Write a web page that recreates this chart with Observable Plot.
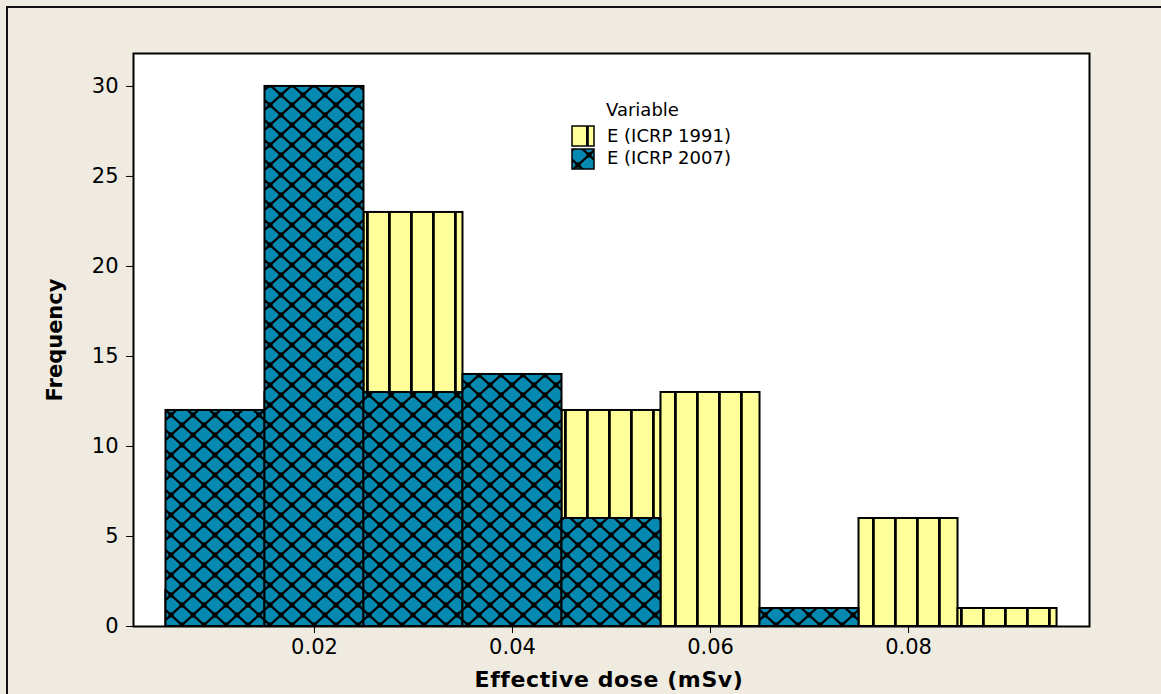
<!DOCTYPE html>
<html>
<head>
<meta charset="utf-8">
<script src="https://cdn.jsdelivr.net/npm/d3@7"></script>
<script src="https://cdn.jsdelivr.net/npm/@observablehq/plot@0.6"></script>
<style>
  html, body { margin: 0; padding: 0; background: #EFEBE1; }
  #chart { position: absolute; left: 0; top: 0; width: 1161px; height: 694px; }
</style>
</head>
<body>
<div id="chart"></div>
<script>
// ---- Data ----
const binCenters = [0.01, 0.02, 0.03, 0.04, 0.05, 0.06, 0.07, 0.08, 0.09];
const binWidth = 0.01;
// E (ICRP 1991): bins at 0.01, 0.02, 0.04 are hidden behind the 2007 bars (estimated)
const e1991 = [2, 13, 23, 6, 12, 13, 0, 6, 1];
const e2007 = [12, 30, 13, 14, 6, 0, 1, 0, 0];
const seriesNames = ["E (ICRP 1991)", "E (ICRP 2007)"];
const xTicks = [0.02, 0.04, 0.06, 0.08];
const yTicks = [0, 5, 10, 15, 20, 25, 30];
const xTitle = "Effective dose (mSv)";
const yTitle = "Frequency";
const legendTitle = "Variable";

const rows = (vals, name) => binCenters.map((c, i) => ({
  x1: c - binWidth / 2, x2: c + binWidth / 2, count: vals[i], series: name
}));
const d1991 = rows(e1991, seriesNames[0]);
const d2007 = rows(e2007, seriesNames[1]);

const FONT = "DejaVu Sans, Verdana, sans-serif";

const chart = Plot.plot({
  width: 1161,
  height: 694,
  marginLeft: 133,
  marginRight: 72,
  marginTop: 53,
  marginBottom: 68,
  style: { fontFamily: FONT, fontSize: "21px", color: "black", background: "transparent", overflow: "visible" },
  x: { domain: [0.00172, 0.09828], ticks: xTicks, tickFormat: d3.format(".2f"), tickSize: 7, tickPadding: 6, label: null },
  y: { domain: [0, 31.83], ticks: yTicks, tickSize: 7, tickPadding: 8, label: null },
  marks: [
    Plot.frame({ fill: "white" }),
    Plot.rectY(d1991, { filter: d => d.count > 0, x1: "x1", x2: "x2", y: "count", fill: "url(#patYellow)", stroke: "black", strokeWidth: 2 }),
    Plot.rectY(d2007, { filter: d => d.count > 0, x1: "x1", x2: "x2", y: "count", fill: "url(#patBlue)", stroke: "black", strokeWidth: 2 }),
    Plot.frame({ stroke: "black", strokeWidth: 2 })
  ]
});

document.getElementById("chart").appendChild(chart);

const svg = d3.select(chart);
const defs = svg.insert("defs", ":first-child");

// Yellow: light yellow with vertical black lines
const py = defs.append("pattern").attr("id", "patYellow")
  .attr("patternUnits", "userSpaceOnUse").attr("width", 22).attr("height", 20);
py.append("rect").attr("width", 22).attr("height", 20).attr("fill", "#FFFF99");
py.append("rect").attr("x", 14).attr("y", 0).attr("width", 2.8).attr("height", 20).attr("fill", "black");

// Blue: teal with a black diagonal lattice and square knots
const pb = defs.append("pattern").attr("id", "patBlue")
  .attr("patternUnits", "userSpaceOnUse").attr("x", 6).attr("y", 5).attr("width", 22).attr("height", 20);
pb.append("rect").attr("width", 22).attr("height", 20).attr("fill", "#0589B1");
pb.append("path").attr("d", "M0,0L22,20M22,0L0,20").attr("stroke", "black").attr("stroke-width", 2.3);
[[0,0],[22,0],[0,20],[22,20],[11,10]].forEach(([cx, cy]) =>
  pb.append("rect").attr("x", cx - 2.6).attr("y", cy - 2.6).attr("width", 5.2).attr("height", 5.2).attr("fill", "black"));

// Outer border
svg.append("path").attr("d", "M7,700V7H1170").attr("fill", "none").attr("stroke", "#111").attr("stroke-width", 2);

// Axis titles
svg.append("text").attr("x", 609).attr("y", 687).attr("text-anchor", "middle")
  .attr("font-family", FONT).attr("font-size", 22).attr("letter-spacing", "0.6px")
  .attr("font-weight", "bold").attr("fill", "black").text(xTitle);
svg.append("text").attr("transform", "translate(62,340) rotate(-90)").attr("text-anchor", "middle")
  .attr("font-family", FONT).attr("font-size", 21).attr("font-weight", "bold").attr("fill", "black").text(yTitle);

// Legend
const lg = svg.append("g").attr("font-family", FONT).attr("font-size", 18).attr("fill", "black").attr("text-anchor", "start");
lg.append("text").attr("x", 606).attr("y", 116).attr("text-anchor", "start").text(legendTitle);
const patIds = ["patYellow", "patBlue"];
const swY = [126, 149];
const txY = [142, 164];
seriesNames.forEach((name, i) => {
  lg.append("rect").attr("x", 572).attr("y", swY[i]).attr("width", 22).attr("height", 20)
    .attr("fill", `url(#${patIds[i]})`).attr("stroke", "black").attr("stroke-width", 1.5);
  lg.append("text").attr("x", 607).attr("y", txY[i]).attr("text-anchor", "start").text(name);
});
</script>
</body>
</html>
